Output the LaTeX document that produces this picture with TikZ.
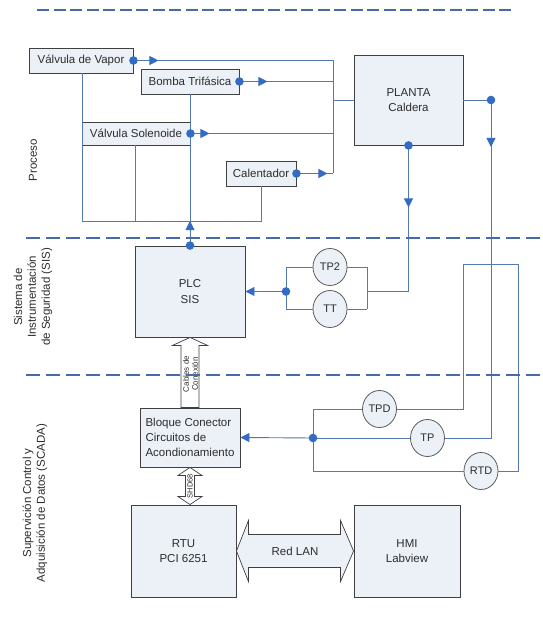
\documentclass[tikz,border=0pt]{standalone}
\usepackage{fontspec}
\setmainfont{Liberation Sans}
\usetikzlibrary{arrows.meta,calc,decorations.markings,shapes.geometric}
\definecolor{boxfill}{RGB}{236,240,247}
\definecolor{boxline}{RGB}{64,64,64}
\definecolor{wirec}{RGB}{84,120,178}
\definecolor{dotc}{RGB}{52,108,196}
\definecolor{sepc}{RGB}{72,106,168}
\definecolor{txt}{RGB}{45,45,45}
\begin{document}
\begin{tikzpicture}[x=1pt,y=-1pt,
  box/.style={draw=boxline,fill=boxfill,line width=0.9pt,inner sep=0pt,text=txt,
    font=\fontsize{11.5}{15.5}\selectfont,align=center},
  sensor/.style={ellipse,draw=boxline!85,fill=boxfill,line width=0.8pt,minimum width=34pt,
    minimum height=37pt,inner sep=0pt,text=txt,font=\fontsize{11}{12}\selectfont},
  wire/.style={draw=wirec,line width=0.9pt},
  tipend/.style={-{Triangle[length=9pt,width=9pt,color=dotc]}},
  midarrow/.style={postaction={decorate},decoration={markings,
    mark=at position #1 with {\arrow{Triangle[length=9pt,width=9pt,color=dotc]}}}},
  barrow/.style={draw=boxline,line width=0.7pt,fill=white,line join=miter},
  seclabel/.style={rotate=90,align=center,text=txt,font=\fontsize{11.5}{13.8}\selectfont},
  sep/.style={draw=sepc,line width=2pt,dash pattern=on 14pt off 6pt},
  smalltxt/.style={rotate=90,align=center,text=txt,inner sep=0pt}
]
\useasboundingbox (0,0) rectangle (542,628);
\fill[white] (0,0) rectangle (542,628);

% ---- section labels
\node[seclabel] (lp) at (33,160) {Proceso};
\node[seclabel] (ls) at (33,297) {Sistema de\\Instrumentación\\de Seguridad (SIS)};
\node[seclabel] (lc) at (35,503) {Supervición Control y\\Adquisición de Datos (SCADA)};

% ---- boxes
\node[box,minimum width=104pt,minimum height=25pt] (vv) at (81,60.5) {Válvula de Vapor};
\node[box,minimum width=98pt,minimum height=25pt] (bt) at (190,81.5) {Bomba Trifásica};
\node[box,minimum width=108pt,minimum height=23pt] (vs) at (136,133.5) {Válvula Solenoide};
\node[box,minimum width=70pt,minimum height=25pt] (cal) at (261,173.5) {Calentador};
\node[box,minimum width=109pt,minimum height=90pt] (planta) at (408.5,100) {PLANTA\\Caldera};
\node[box,minimum width=110pt,minimum height=91pt] (plc) at (190,291.5) {PLC\\SIS};
\node[box,minimum width=100pt,minimum height=59pt,align=left,font=\fontsize{11.5}{15}\selectfont] (blq) at (190,437.5)
  {Bloque Conector\\Circuitos de\\Acondionamiento};
\node[box,minimum width=105pt,minimum height=92pt] (rtu) at (183.5,551) {RTU\\PCI 6251};
\node[box,minimum width=106pt,minimum height=92pt] (hmi) at (407,551) {HMI\\Labview};

% ---- sensors
\node[sensor] (tp2) at (330,267) {TP2};
\node[sensor] (tt) at (330,309) {TT};
\node[sensor] (tpd) at (379.5,409) {TPD};
\node[sensor] (tp) at (427.5,438) {TP};
\node[sensor] (rtd) at (481,471) {RTD};

% ---- process wiring
\coordinate (bl) at (82,221);
\coordinate (br) at (261,221);
\coordinate (v3) at (135,221);
\coordinate (vb) at (333,100);
\draw[wire] (vv.south -| bl) -- (bl) -- (br) -- (cal.south);
\draw[wire] (bt.south) -- (bt.south |- bl);
\draw[wire] (vs.south -| v3) -- (v3);
\draw[wire] (vv.east -| vb) -- (cal.east -| vb);
\draw[wire] (vb) -- (planta.west);
\draw[wire,midarrow=25pt] (vv.east) -- (vv.east -| vb);
\draw[wire,midarrow=28pt] (bt.east) -- (bt.east -| vb);
\draw[wire,midarrow=19pt] (vs.east) -- (vs.east -| vb);
\draw[wire,midarrow=31pt] (cal.east) -- (cal.east -| vb);
\draw[wire,tipend] (plc.north) -- (plc.north |- bl);

% ---- planta outputs
\coordinate (pr) at (491,100);
\draw[wire] (planta.east) -- (pr);
\draw[wire,midarrow=47pt] (pr) -- (pr |- tp.east) -- (tp.east);
\coordinate (sr) at (367,291.5);
\coordinate (sl) at (286,291.5);
\draw[wire,midarrow=62pt] (planta.south) -- (planta.south |- sr) -- (sr);
\draw[wire] (tp2.east -| sr) -- (tt.east -| sr);
\draw[wire] (tp2.east) -- (tp2.east -| sr);
\draw[wire] (tt.east) -- (tt.east -| sr);
\draw[wire] (tp2.west) -- (tp2.west -| sl) -- (tt.west -| sl) -- (tt.west);
\draw[wire,tipend] (sl) -- (plc.east);

% ---- field sensors to conditioning block
\coordinate (jn) at (313,438);
\coordinate (ua) at (463,264);
\coordinate (ub) at (518,264);
\draw[wire,tipend] (jn) -- (blq.east);
\draw[wire] (tpd.west -| jn) -- (rtd.west -| jn);
\draw[wire] (tpd.west -| jn) -- (tpd.west);
\draw[wire] (jn) -- (tp.west);
\draw[wire] (rtd.west -| jn) -- (rtd.west);
\draw[wire] (tpd.east) -- (tpd.east -| ua) -- (ua) -- (ub) -- (ub |- rtd.east) -- (rtd.east);

% ---- dots
\foreach \p in {vv.east,bt.east,vs.east,cal.east,plc.north,pr,planta.south,sl,jn}
  \fill[dotc] (\p) circle[radius=4.3pt];

% ---- block arrows
\draw[barrow] (plc.south) -- ($(plc.south)+(17.5,8)$) -- ($(plc.south)+(9,8)$)
  -- ($(blq.north)+(9,0)$) -- ($(blq.north)+(-9,0)$) -- ($(plc.south)+(-9,8)$)
  -- ($(plc.south)+(-17.5,8)$) -- cycle;
\node[smalltxt,font=\fontsize{8}{9}\selectfont] (cbl) at (190.5,374) {Cables de\\Conexión};

\coordinate (st) at (blq.south);
\coordinate (sb) at (blq.south |- rtu.north);
\draw[barrow] (st) -- ++(12,8) -- ++(-7.5,0) -- ($(sb)+(4.5,-8)$) -- ++(7.5,0) -- (sb)
  -- ++(-12,-8) -- ++(7.5,0) -- ($(st)+(-4.5,8)$) -- ++(-7.5,0) -- cycle;
\node[smalltxt,font=\fontsize{7.5}{8}\selectfont] (shd) at ($(st)!0.5!(sb)$) {SHD68};

\draw[barrow,fill=boxfill] (rtu.east) -- ++(12,-30.5) -- ++(0,14) -- ($(hmi.west)+(-13,-16.5)$)
  -- ++(0,-14) -- (hmi.west) -- ++(-13,30.5) -- ++(0,-14) -- ($(rtu.east)+(12,16.5)$)
  -- ++(0,14) -- cycle;
\node[text=txt,font=\fontsize{11.5}{13}\selectfont] (lan) at ($(rtu.east)!0.5!(hmi.west)$) {Red LAN};

% ---- section separators
\draw[sep,dash pattern=on 12pt off 4.5pt] (37,10.5) -- (513,10.5);
\draw[sep] (26,238) -- (542,238);
\draw[sep] (26,375) -- (542,375);
\end{tikzpicture}
\end{document}
